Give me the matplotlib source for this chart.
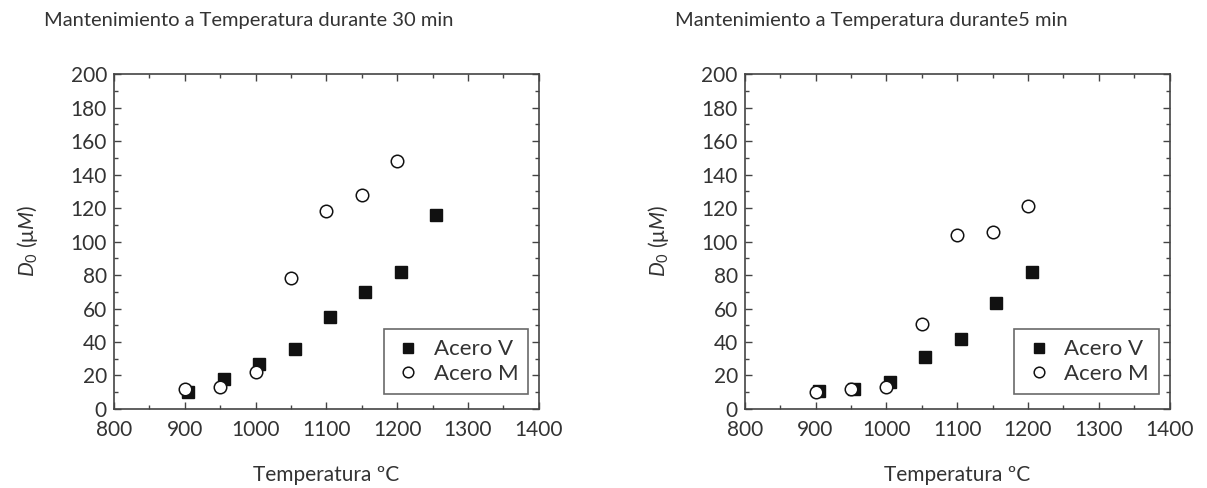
import matplotlib
matplotlib.use("Agg")
import matplotlib.pyplot as plt
from matplotlib.ticker import MultipleLocator

plt.rcParams["font.family"] = ["Lato", "DejaVu Sans"]
plt.rcParams["mathtext.fontset"] = "custom"
plt.rcParams["mathtext.rm"] = "Lato"
plt.rcParams["mathtext.it"] = "Lato:italic"
TXT = "#333333"

# ── Data ─────────────────────────────────────────────────────────────────────
titles = ["Mantenimiento a Temperatura durante 30 min",
          "Mantenimiento a Temperatura durante5 min"]

# 30 min
v30_x = [905, 955, 1005, 1055, 1105, 1155, 1205, 1255]
v30_y = [10, 18, 27, 36, 55, 70, 82, 116]
m30_x = [900, 950, 1000, 1050, 1100, 1150, 1200]
m30_y = [12, 13, 22, 78, 118, 128, 148]

# 5 min
v5_x = [905, 955, 1005, 1055, 1105, 1155, 1205]
v5_y = [11, 12, 16, 31, 42, 63, 82]
m5_x = [900, 950, 1000, 1050, 1100, 1150, 1200]
m5_y = [10, 12, 13, 51, 104, 106, 121]

panels = [(v30_x, v30_y, m30_x, m30_y), (v5_x, v5_y, m5_x, m5_y)]

fig = plt.figure(figsize=(12.07, 4.88), dpi=100)
lefts = [0.0944, 0.617]

for i, (vx, vy, mx, my) in enumerate(panels):
    ax = fig.add_axes([lefts[i], 0.162, 0.352, 0.686])
    ax.plot(vx, vy, "s", color="#111111", ms=8.5, label="Acero V", zorder=3)
    ax.plot(mx, my, "o", mfc="white", mec="#111111", mew=1.1, ms=9,
            label="Acero M", zorder=4)

    ax.set_xlim(800, 1400)
    ax.set_ylim(0, 200)
    ax.xaxis.set_major_locator(MultipleLocator(100))
    ax.xaxis.set_minor_locator(MultipleLocator(50))
    ax.yaxis.set_major_locator(MultipleLocator(20))
    ax.yaxis.set_minor_locator(MultipleLocator(10))
    ax.tick_params(which="both", direction="in", top=True, right=True,
                   colors="#444444", labelcolor=TXT, labelsize=15)
    ax.tick_params(which="major", length=5, width=1)
    ax.tick_params(which="minor", length=3, width=1)
    ax.tick_params(axis="x", pad=8)
    ax.tick_params(axis="y", pad=5)
    for sp in ax.spines.values():
        sp.set_edgecolor("#444444")
        sp.set_linewidth(1.2)

    ax.set_xlabel("Temperatura ºC", fontsize=15, color=TXT, labelpad=18)
    ax.set_ylabel(r"$D_0$ ($\mathrm{\mu}M$)", fontsize=15, color=TXT,
                  labelpad=22)

    leg = ax.legend(loc="lower right", fontsize=16, frameon=True, fancybox=False,
                    edgecolor="#444444", handletextpad=0.5, borderpad=0.45,
                    labelspacing=0.2, handlelength=1.3, markerscale=0.85,
                    borderaxespad=0, bbox_to_anchor=(0.975, 0.045))
    leg.get_frame().set_linewidth(1.2)
    for t in leg.get_texts():
        t.set_color(TXT)

    bb = ax.get_position()
    fig.text(bb.x0 - 0.058, 0.958, titles[i], fontsize=14.5, color=TXT,
             ha="left", va="center")

fig.savefig("out.png", dpi=100)
